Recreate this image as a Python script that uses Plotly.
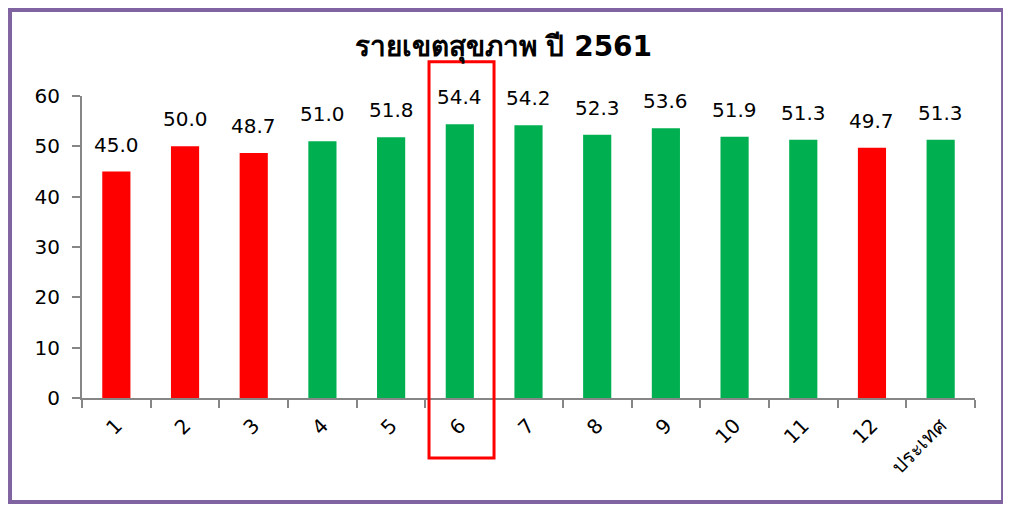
import plotly.graph_objects as go

regions = ['1', '2', '3', '4', '5', '6', '7', '8', '9', '10', '11', '12', 'ประเทศ']
scores = [45.0, 50.0, 48.7, 51.0, 51.8, 54.4, 54.2, 52.3, 53.6, 51.9, 51.3, 49.7, 51.3]
bar_colors = ['#FF0000', '#FF0000', '#FF0000', '#00B050', '#00B050', '#00B050', '#00B050',
              '#00B050', '#00B050', '#00B050', '#00B050', '#FF0000', '#00B050']

font_main = 'DejaVu Sans, Tahoma, sans-serif'

fig = go.Figure(go.Bar(
    x=regions,
    y=scores,
    marker=dict(color=bar_colors, line=dict(width=0)),
    hoverinfo='x+y',
))

# value labels above bars (x by category index, numeric strings would be misread)
for i, v in enumerate(scores):
    fig.add_annotation(x=i, y=v, text=f'{v:.1f}', showarrow=False,
                       yanchor='bottom', yshift=13,
                       font=dict(size=20, color='black', family=font_main))

fig.update_layout(
    width=1011, height=506,
    margin=dict(l=74, r=44, t=88, b=116),
    paper_bgcolor='white', plot_bgcolor='white',
    bargap=0.59,
    showlegend=False,
    title=dict(text='<b>รายเขตสุขภาพ ปี 2561</b>', x=0.49, xanchor='center',
               y=0.925, yanchor='middle',
               font=dict(size=28, color='black', family=font_main)),
    font=dict(family=font_main, color='black'),
)

fig.update_xaxes(
    type='category', tickangle=-45, showline=True, linecolor='#868686', linewidth=2,
    ticks='outside', tickson='boundaries', ticklen=8, tickcolor='#868686', tickwidth=2,
    ticklabelstandoff=6,
    tickfont=dict(size=20, color='black'), showgrid=False, zeroline=False,
)
fig.update_yaxes(
    range=[0, 60], dtick=10, showline=True, linecolor='#868686', linewidth=2,
    ticks='outside', ticklen=8, tickcolor='#868686', tickwidth=2,
    ticklabelstandoff=8,
    tickfont=dict(size=20, color='black'), showgrid=False, zeroline=False,
)

# red highlight box around region 6
fig.add_shape(type='rect', xref='paper', yref='paper',
              x0=0.3886, x1=0.4614, y0=-0.199, y1=1.113,
              line=dict(color='#FF0000', width=3), fillcolor='rgba(0,0,0,0)')

# purple frame around the whole chart
fig.add_shape(type='rect', xref='paper', yref='paper',
              x0=-0.0806, x1=1.0314, y0=-0.3444, y1=1.2848,
              line=dict(color='#8064A2', width=4), fillcolor='rgba(0,0,0,0)')

fig.write_html('out.html')
